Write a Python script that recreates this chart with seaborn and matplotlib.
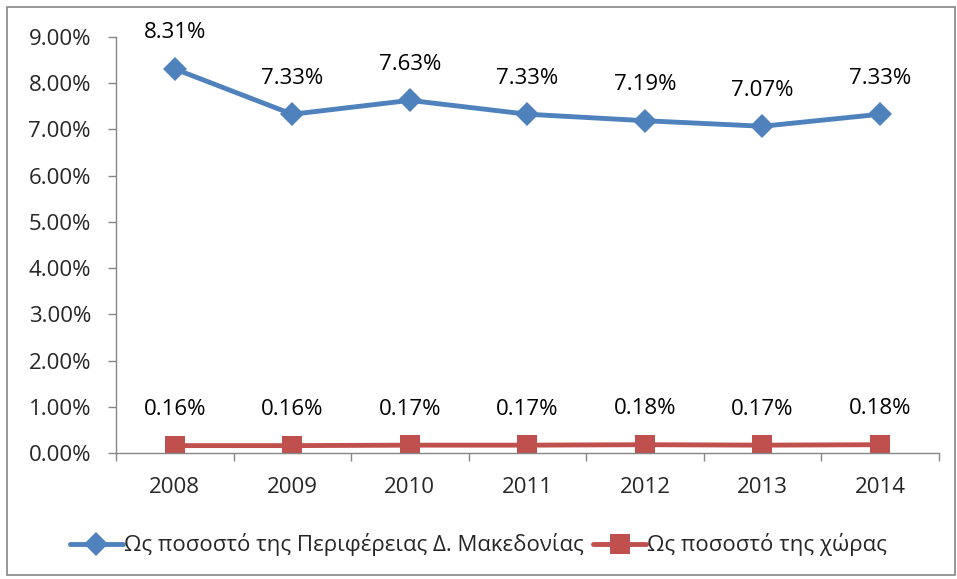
import numpy as np
import pandas as pd
import matplotlib
matplotlib.use("Agg")
import matplotlib.pyplot as plt
import matplotlib.patches as patches
from matplotlib.lines import Line2D
import seaborn as sns

#--------------------Data-----------------------
years = ["2008", "2009", "2010", "2011", "2012", "2013", "2014"]
region_share = [8.31, 7.33, 7.63, 7.33, 7.19, 7.07, 7.33]
country_share = [0.16, 0.16, 0.17, 0.17, 0.18, 0.17, 0.18]
series_names = ["Ως ποσοστό της Περιφέρειας Δ. Μακεδονίας", "Ως ποσοστό της χώρας"]
y_ticks = [0, 1, 2, 3, 4, 5, 6, 7, 8, 9]

df = pd.DataFrame({
    "year": years * 2,
    "pos": list(range(len(years))) * 2,
    "value": region_share + country_share,
    "series": [series_names[0]] * len(years) + [series_names[1]] * len(years),
})

#--------------------Style-----------------------
sns.set_style("white")
plt.rcParams["font.family"] = ["Open Sans", "DejaVu Sans"]
blue = "#4F81BD"
red = "#C0504D"
axis_gray = "#868686"
fs = 16

fig = plt.figure(figsize=(9.57, 5.79), dpi=100)
ax = fig.add_axes([0.1212, 0.2176, 0.981 - 0.1212, 0.936 - 0.2176])

sns.lineplot(data=df, x="pos", y="value", hue="series", style="series",
             palette={series_names[0]: blue, series_names[1]: red},
             markers={series_names[0]: "D", series_names[1]: "s"},
             dashes=False, linewidth=3.5, markeredgewidth=0,
             ax=ax, legend=False)
# Excel-style marker sizes: diamonds slightly smaller than squares
for line, ms in zip(ax.get_lines(), [12, 14]):
    line.set_markersize(ms)

# data labels
for s, vals in zip(series_names, [region_share, country_share]):
    for i, v in enumerate(vals):
        ax.annotate(f"{v:.2f}%", (i, v), xytext=(0, 26), textcoords="offset points",
                    ha="center", va="center", fontsize=fs, color="black")

ax.set_xlim(-0.5, len(years) - 0.5)
ax.set_ylim(0, 9)
ax.set_yticks(y_ticks)
ax.set_yticklabels([f"{t:.2f}%" for t in y_ticks])
ax.set_xticks(range(len(years)))
ax.set_xticklabels(years)
ax.set_xticks(np.arange(-0.5, len(years)), minor=True)
ax.set_xlabel("")
ax.set_ylabel("")

ax.tick_params(axis="y", which="major", direction="out", length=6, width=1,
               color=axis_gray, labelsize=fs, pad=12, left=True)
ax.tick_params(axis="x", which="major", length=0, labelsize=fs, pad=17)
ax.tick_params(axis="x", which="minor", direction="out", length=6, width=1,
               color=axis_gray, bottom=True)

for side in ["top", "right"]:
    ax.spines[side].set_visible(False)
for side in ["left", "bottom"]:
    ax.spines[side].set_color(axis_gray)
    ax.spines[side].set_linewidth(1)

# legend at the bottom
handles = [
    Line2D([0], [0], color=blue, lw=3.5, marker="D", markersize=12, markeredgewidth=0),
    Line2D([0], [0], color=red, lw=3.5, marker="s", markersize=14, markeredgewidth=0),
]
fig.legend(handles, series_names, loc="center", bbox_to_anchor=(0.5, 1 - 545 / 579),
           ncol=2, frameon=False, fontsize=fs, handlelength=2.4,
           handletextpad=0.05, columnspacing=0.4)

# chart border
fig.patches.append(patches.Rectangle((7 / 957, 4 / 579), 948 / 957, 568 / 579,
                                     transform=fig.transFigure, fill=False,
                                     edgecolor=axis_gray, linewidth=1.2))

fig.savefig("out.png", dpi=100)
